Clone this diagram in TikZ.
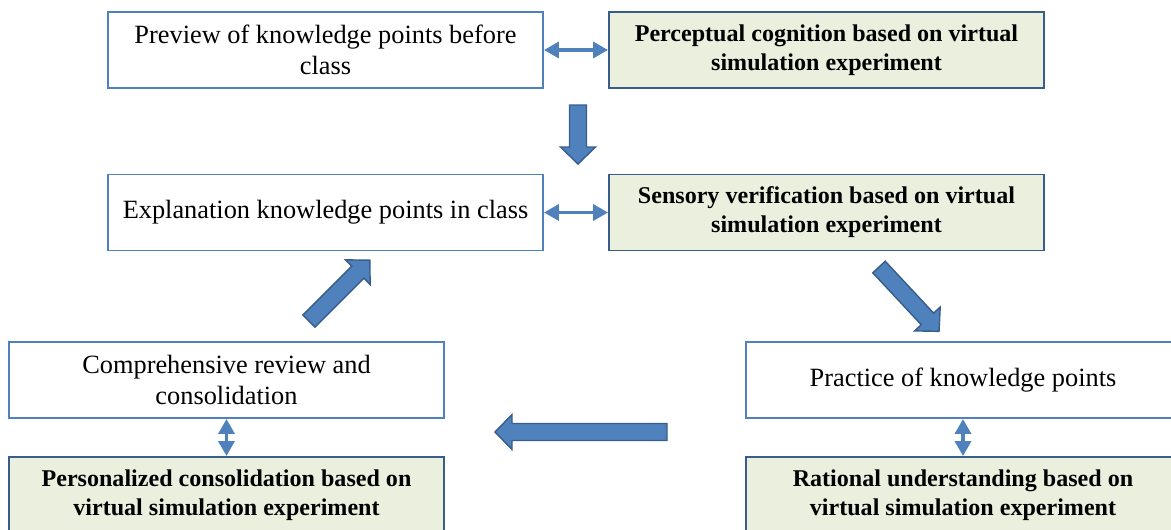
\documentclass[tikz,border=0pt]{standalone}
\usepackage{fontspec}
\setmainfont{Liberation Serif}
\usetikzlibrary{arrows.meta}
\definecolor{boxblue}{HTML}{4F81BD}
\definecolor{darkblue}{HTML}{385D8A}
\definecolor{palegreen}{HTML}{EBEFDE}
% fat arrow: tail, angle, length
\newcommand{\bigarrow}[3]{\draw[block arrow, shift={(#1)}, rotate=#2] (0,-8.5) -- (#3-17,-8.5) -- (#3-17,-17.5) -- (#3,0) -- (#3-17,17.5) -- (#3-17,8.5) -- (0,8.5) -- cycle;}
\begin{document}
\begin{tikzpicture}[x=0.02cm, y=-0.02cm,
    plain box/.style={rectangle, draw=boxblue, line width=1.1pt, fill=white, minimum width=8.7cm, minimum height=1.52cm, inner sep=0pt, align=center, font=\fontsize{15}{17.3}\selectfont},
    green box/.style={plain box, draw=darkblue, fill=palegreen, font=\fontsize{13.7}{16.5}\selectfont\bfseries},
    link/.style={{Triangle[length=8.5pt,width=9pt]}-{Triangle[length=8.5pt,width=9pt]}, line width=2.2pt, draw=boxblue},
    block arrow/.style={draw=darkblue, fill=boxblue, line width=0.8pt}]
\useasboundingbox (0,0) rectangle (1171,529);
\clip (0,0) rectangle (1171,529);
\node[plain box] (preview) at (325.5,50) {Preview of knowledge points before\\class};
\node[green box] (perceptual) at (826.5,50) {Perceptual cognition based on virtual\\simulation experiment};
\node[plain box] (explain) at (325.5,212.5) {Explanation knowledge points in class};
\node[green box] (sensory) at (826.5,212.5) {Sensory verification based on virtual\\simulation experiment};
\node[plain box] (review) at (226.5,380) {Comprehensive review and\\consolidation};
\node[plain box] (practice) at (963,380) {Practice of knowledge points};
\node[green box] (personal) at (226.5,495) {Personalized consolidation based on\\virtual simulation experiment};
\node[green box] (rational) at (963,495) {Rational understanding based on\\virtual simulation experiment};
\draw[link] (preview) -- (perceptual);
\draw[link] (explain) -- (sensory);
\draw[link] (review) -- (personal);
\draw[link] (practice) -- (rational);
\coordinate (down tail) at (578,105);
\coordinate (right tail) at (879,267);
\coordinate (left tail) at (667,432);
\coordinate (up tail) at (309,321);
\bigarrow{down tail}{-90}{59}
\bigarrow{right tail}{-47}{88}
\bigarrow{left tail}{180}{172}
\bigarrow{up tail}{45}{86}
\end{tikzpicture}
\end{document}
